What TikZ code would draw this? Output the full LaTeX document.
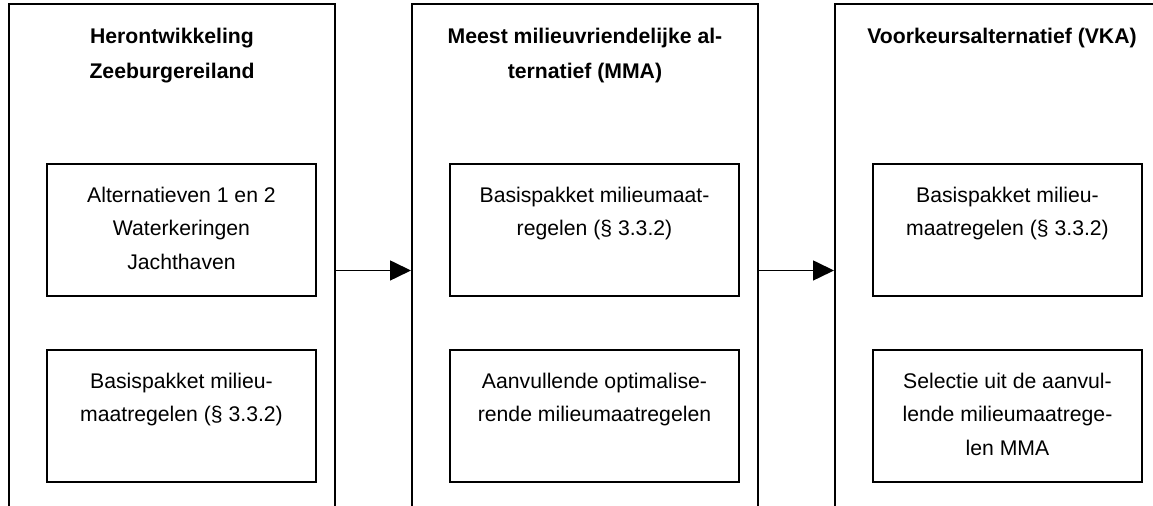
\documentclass[tikz,border=0pt]{standalone}
\usepackage{fontspec}
\setmainfont{Liberation Sans}
\usetikzlibrary{arrows.meta}
\tikzset{
  outerbox/.style={draw, line width=1pt, rectangle, minimum height=278pt, inner sep=0pt},
  innerbox/.style={draw, line width=1pt, rectangle, minimum height=66pt, inner sep=0pt},
  bodytext/.style={anchor=north, inner sep=0pt, align=center, font=\fontsize{10.6pt}{16.75pt}\selectfont},
  headtext/.style={anchor=north, inner sep=0pt, align=center, font=\bfseries\fontsize{10.6pt}{17.75pt}\selectfont},
  arr/.style={line width=0.8pt, -{Triangle[length=10.5pt, width=10pt]}}
}
\begin{document}
\begin{tikzpicture}[x=0.5pt,y=-0.5pt]
\clip (0,0) rectangle (1153,506);
\fill[white] (0,0) rectangle (1153,506);
% outer columns
\node[outerbox, minimum width=163pt] (o1) at (172,282) {};
\node[outerbox, minimum width=173pt] (o2) at (585,282) {};
\node[outerbox, minimum width=167pt] (o3) at (1002,282) {};
% headings
\node[headtext] (h1) at (172,27.5) {Herontwikkeling\\Zeeburgereiland};
\node[headtext] (h2) at (585,27.5) {Meest milieuvriendelijke al-\\ternatief (MMA)};
\node[headtext] (h3) at (1002,27.5) {Voorkeursalternatief (VKA)};
% inner boxes
\node[innerbox, minimum width=134.5pt] (a1) at (181.5,230) {};
\node[innerbox, minimum width=134.5pt] (a2) at (181.5,416) {};
\node[innerbox, minimum width=144.5pt] (b1) at (594.5,230) {};
\node[innerbox, minimum width=144.5pt] (b2) at (594.5,416) {};
\node[innerbox, minimum width=134.5pt] (c1) at (1007.5,230) {};
\node[innerbox, minimum width=134.5pt] (c2) at (1007.5,416) {};
% inner texts
\node[bodytext] (ta1) at ([yshift=-11.8pt]a1.north) {Alternatieven 1 en 2\\Waterkeringen\\Jachthaven};
\node[bodytext] (ta2) at ([yshift=-11.8pt]a2.north) {Basispakket milieu-\\maatregelen (§ 3.3.2)};
\node[bodytext] (tb1) at ([yshift=-11.8pt]b1.north) {Basispakket milieumaat-\\regelen (§ 3.3.2)};
\node[bodytext] (tb2) at ([yshift=-11.8pt]b2.north) {Aanvullende optimalise-\\rende milieumaatregelen};
\node[bodytext] (tc1) at ([yshift=-11.8pt]c1.north) {Basispakket milieu-\\maatregelen (§ 3.3.2)};
\node[bodytext] (tc2) at ([yshift=-11.8pt]c2.north) {Selectie uit de aanvul-\\lende milieumaatrege-\\len MMA};
% arrows
\coordinate (ay) at (0,270.5);
\draw[arr] (o1.east |- ay) -- (o2.west |- ay);
\draw[arr] (o2.east |- ay) -- (o3.west |- ay);
\end{tikzpicture}
\end{document}
